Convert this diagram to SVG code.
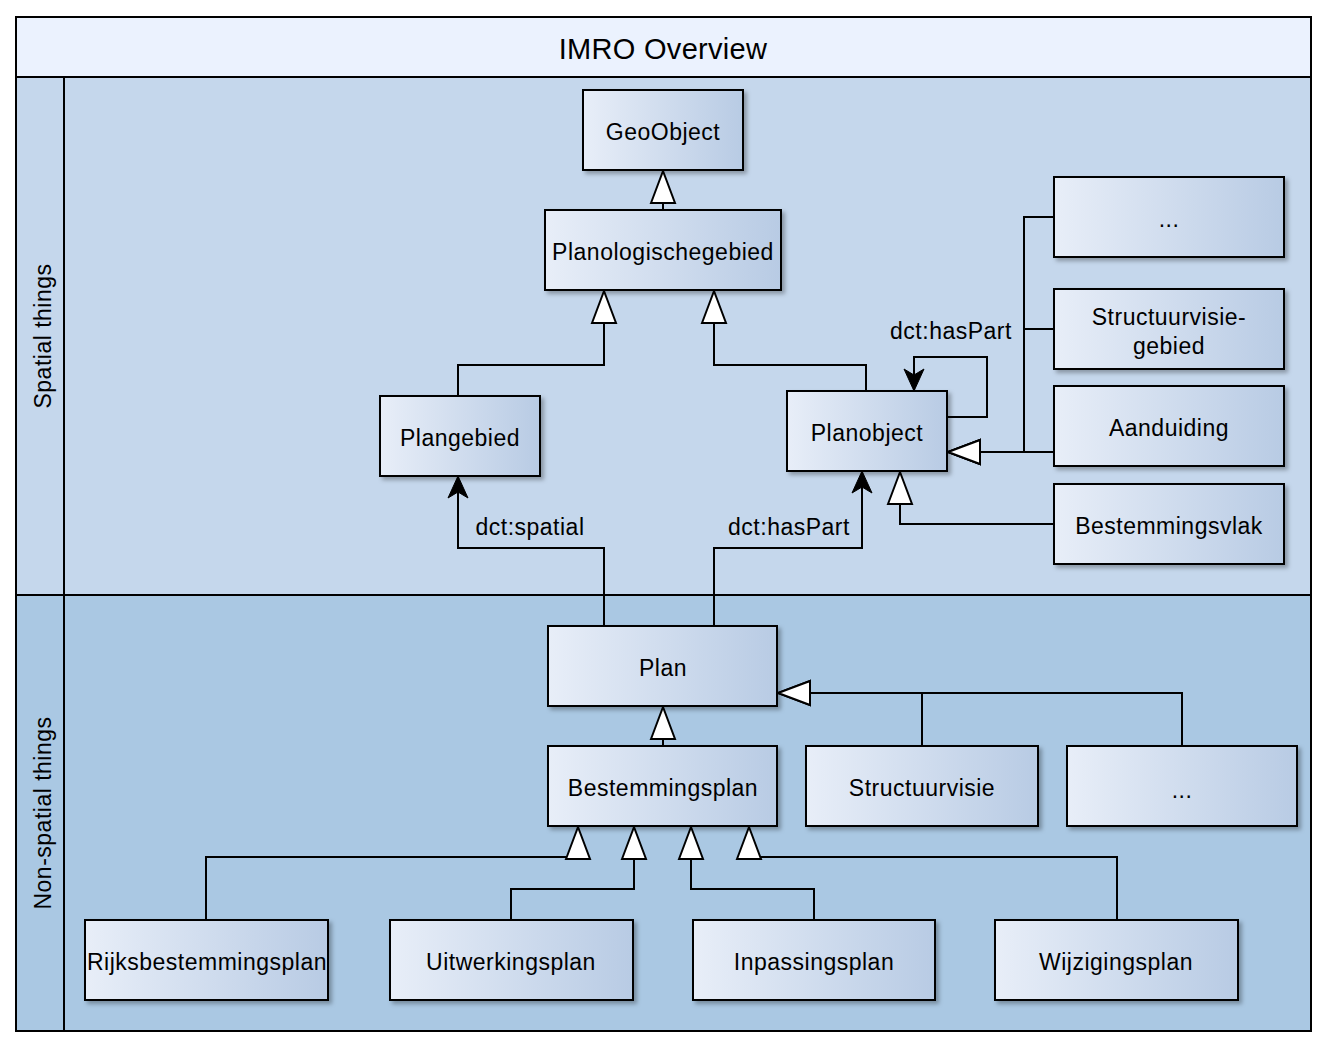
<svg xmlns="http://www.w3.org/2000/svg" width="1328" height="1048" viewBox="0 0 1328 1048">
<defs>
<linearGradient id="ng" x1="0" y1="0" x2="1" y2="0">
<stop offset="0" stop-color="#E8EEF8"/>
<stop offset="1" stop-color="#B8CBE4"/>
</linearGradient>
<filter id="sh" x="-10%" y="-10%" width="130%" height="140%">
<feDropShadow dx="3" dy="3" stdDeviation="2" flood-color="#000" flood-opacity="0.3"/>
</filter>
<marker id="tri" markerUnits="userSpaceOnUse" markerWidth="40" markerHeight="30" viewBox="-2 -3 40 30" refX="33" refY="12" orient="auto">
<path d="M0,0 L32,12 L0,24 Z" fill="#fff" stroke="#000" stroke-width="2"/>
</marker>
<marker id="arr" markerUnits="userSpaceOnUse" markerWidth="26" markerHeight="24" viewBox="-1 -2 26 24" refX="22" refY="10" orient="auto">
<path d="M0,0 L22,10 L0,20 L6,10 Z" fill="#000" stroke="#000" stroke-width="1"/>
</marker>
<style>
.node rect{fill:url(#ng);stroke:#000;stroke-width:2;filter:url(#sh)}
text{font-family:"Liberation Sans",Arial,Helvetica,sans-serif;font-size:23px;letter-spacing:0.5px;fill:#000}
.node text,.lbl{text-anchor:middle;dominant-baseline:central}
.c{fill:none;stroke:#000;stroke-width:2}
.h{marker-end:url(#tri)}
.f{marker-end:url(#arr)}
</style>
</defs>
<g id="pool">
<rect x="16" y="17" width="1295" height="60" fill="#EBF2FE" stroke="#000" stroke-width="2"/>
<rect x="16" y="77" width="1295" height="518" fill="#C5D7EC" stroke="#000" stroke-width="2"/>
<rect x="16" y="595" width="1295" height="436" fill="#AAC8E3" stroke="#000" stroke-width="2"/>
<line x1="64" y1="77" x2="64" y2="1031" stroke="#000" stroke-width="2"/>
<text x="663" y="49" text-anchor="middle" dominant-baseline="central" style="font-size:29px;letter-spacing:0.3px">IMRO Overview</text>
<text transform="translate(43,336) rotate(-90)" text-anchor="middle" dominant-baseline="central">Spatial things</text>
<text transform="translate(43,813) rotate(-90)" text-anchor="middle" dominant-baseline="central">Non-spatial things</text>
</g>
<g id="connectors">
<path class="c h" d="M663,210 V170"/>
<path class="c h" d="M458,396 V365 H604 V290"/>
<path class="c h" d="M866,391 V365 H714 V290"/>
<path class="c f" d="M947,417 H987 V357 H914 V391"/>
<text class="lbl" x="951" y="331">dct:hasPart</text>
<path class="c h" d="M1054,217 H1024 V452 H947"/>
<path class="c h" d="M1054,329 H1024 V452 H947"/>
<path class="c h" d="M1054,452 H947"/>
<path class="c h" d="M1054,524 H900 V471"/>
<path class="c f" d="M604,626 V548 H458 V476"/>
<text class="lbl" x="530" y="527">dct:spatial</text>
<path class="c f" d="M714,626 V548 H862 V471"/>
<text class="lbl" x="789" y="527">dct:hasPart</text>
<path class="c h" d="M663,746 V706"/>
<path class="c h" d="M922,746 V693 H777"/>
<path class="c h" d="M1182,746 V693 H777"/>
<path class="c h" d="M206,920 V857 H578 V826"/>
<path class="c h" d="M511,920 V889 H634 V826"/>
<path class="c h" d="M814,920 V889 H691 V826"/>
<path class="c h" d="M1117,920 V857 H749 V826"/>
</g>
<g id="n-geoobject" class="node"><rect x="583" y="90" width="160" height="80"/><text x="663" y="132">GeoObject</text></g>
<g id="n-planologischegebied" class="node"><rect x="545" y="210" width="236" height="80"/><text x="663" y="252">Planologischegebied</text></g>
<g id="n-plangebied" class="node"><rect x="380" y="396" width="160" height="80"/><text x="460" y="438">Plangebied</text></g>
<g id="n-planobject" class="node"><rect x="787" y="391" width="160" height="80"/><text x="867" y="433">Planobject</text></g>
<g id="n-dots1" class="node"><rect x="1054" y="177" width="230" height="80"/><text x="1169" y="219">...</text></g>
<g id="n-structuurvisiegebied" class="node"><rect x="1054" y="289" width="230" height="80"/><text x="1169" y="317">Structuurvisie-</text><text x="1169" y="346">gebied</text></g>
<g id="n-aanduiding" class="node"><rect x="1054" y="386" width="230" height="80"/><text x="1169" y="428">Aanduiding</text></g>
<g id="n-bestemmingsvlak" class="node"><rect x="1054" y="484" width="230" height="80"/><text x="1169" y="526">Bestemmingsvlak</text></g>
<g id="n-plan" class="node"><rect x="548" y="626" width="229" height="80"/><text x="663" y="668">Plan</text></g>
<g id="n-bestemmingsplan" class="node"><rect x="548" y="746" width="229" height="80"/><text x="663" y="788">Bestemmingsplan</text></g>
<g id="n-structuurvisie" class="node"><rect x="806" y="746" width="232" height="80"/><text x="922" y="788">Structuurvisie</text></g>
<g id="n-dots2" class="node"><rect x="1067" y="746" width="230" height="80"/><text x="1182" y="790">...</text></g>
<g id="n-rijksbestemmingsplan" class="node"><rect x="85" y="920" width="243" height="80"/><text x="207" y="962">Rijksbestemmingsplan</text></g>
<g id="n-uitwerkingsplan" class="node"><rect x="390" y="920" width="243" height="80"/><text x="511" y="962">Uitwerkingsplan</text></g>
<g id="n-inpassingsplan" class="node"><rect x="693" y="920" width="242" height="80"/><text x="814" y="962">Inpassingsplan</text></g>
<g id="n-wijzigingsplan" class="node"><rect x="995" y="920" width="243" height="80"/><text x="1116" y="962">Wijzigingsplan</text></g>
</svg>
